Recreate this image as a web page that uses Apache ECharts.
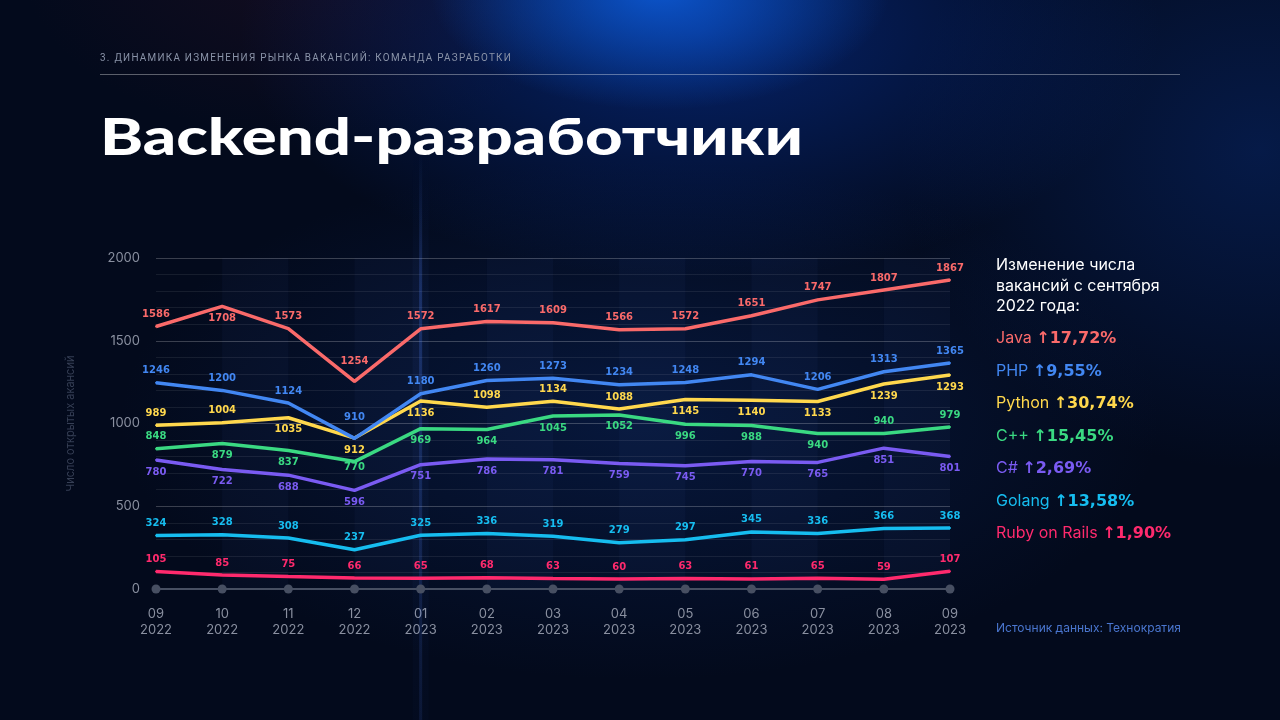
<!DOCTYPE html>
<html><head><meta charset="utf-8">
<script src="https://cdn.jsdelivr.net/npm/echarts@6/dist/echarts.min.js"></script>
<style>
html,body{margin:0;padding:0;width:1280px;height:720px;overflow:hidden;}
body{background:
 radial-gradient(ellipse 230px 120px at 660px -10px, rgba(12,90,215,0.9), rgba(12,90,215,0) 100%),
 radial-gradient(ellipse 460px 250px at 700px 30px, rgba(6,48,150,0.65), rgba(6,48,150,0) 100%),
 radial-gradient(ellipse 360px 320px at 1260px 150px, rgba(8,42,115,0.5), rgba(8,42,115,0) 100%),
 radial-gradient(ellipse 520px 260px at 640px 420px, rgba(12,42,105,0.42), rgba(12,42,105,0) 100%),
 radial-gradient(ellipse 300px 180px at 320px -40px, rgba(60,18,40,0.3), rgba(60,18,40,0) 100%),
 #030a1c;
 font-family:Inter, Roboto, sans-serif;}
#chart{position:absolute;left:0;top:0;width:1280px;height:720px;}
.abs{position:absolute;white-space:nowrap;}
#sub{left:100px;top:51px;font-family:Roboto,sans-serif;font-size:11px;line-height:14px;letter-spacing:1.4px;color:#8a93a8;transform-origin:0 0;}
#rule{left:100px;top:74px;width:1080px;height:1px;background:rgba(255,255,255,0.35);}
#title{left:100px;top:104px;font-family:Lato,sans-serif;font-weight:900;font-size:52px;line-height:62px;color:#fff;transform-origin:0 0;}
#panel{left:996px;top:254px;color:#fff;font-size:16px;line-height:20.5px;font-family:Inter,sans-serif;}
.entry{position:absolute;left:996px;font-family:Inter,sans-serif;font-size:16px;line-height:20px;white-space:nowrap;}
.entry b{font-family:"DejaVu Sans",sans-serif;font-weight:bold;font-size:16px;}
#src{left:996px;top:620px;font-size:12px;line-height:16px;color:#4a76cf;font-family:Inter,sans-serif;}
</style></head>
<body>
<div id="chart"></div>
<div id="sub" class="abs">3. ДИНАМИКА ИЗМЕНЕНИЯ РЫНКА ВАКАНСИЙ: КОМАНДА РАЗРАБОТКИ</div>
<div id="rule" class="abs"></div>
<div id="title" class="abs">Backend-разработчики</div>
<div id="panel" class="abs">Изменение числа<br>вакансий с сентября<br>2022 года:</div>
<div id="entries"></div>
<div id="src" class="abs">Источник данных: Технократия</div>
<script>
const months = ['09','10','11','12','01','02','03','04','05','06','07','08','09'];
const years  = ['2022','2022','2022','2022','2023','2023','2023','2023','2023','2023','2023','2023','2023'];
const categories = months.map((m,i)=>m+'\n'+years[i]);
const yTicks = [0,500,1000,1500,2000];

const java   = [1586,1708,1573,1254,1572,1617,1609,1566,1572,1651,1747,1807,1867];
const php    = [1246,1200,1124,910,1180,1260,1273,1234,1248,1294,1206,1313,1365];
const python = [989,1004,1035,912,1136,1098,1134,1088,1145,1140,1133,1239,1293];
const cpp    = [848,879,837,770,969,964,1045,1052,996,988,940,940,979];
const csharp = [780,722,688,596,751,786,781,759,745,770,765,851,801];
const golang = [324,328,308,237,325,336,319,279,297,345,336,366,368];
const ruby   = [105,85,75,66,65,68,63,60,63,61,65,59,107];

const seriesNames = ['Java','PHP','Python','C++','C#','Golang','Ruby on Rails'];
const seriesData = [java,php,python,cpp,csharp,golang,ruby];
const colors = ['#fa6a6a','#4287f2','#ffd84d','#3ad982','#7a5bf2','#16bdf0','#ff2a6d'];

// label layout: indices whose label sits below the line; custom label distances
const below = {
  'Java':[1],
  'Python':[2,3,4,8,9,10,11,12],
  'C++':[1,2,3,4,5,6,7,8,9,10],
  'C#':[0,1,2,3,4,5,6,7,8,9,10,11,12]
};
const labelDist = {'Java':{3:14},'PHP':{3:15},'C++':{3:0}};

const chart = echarts.init(document.getElementById('chart'), null, {renderer:'canvas'});

const series = seriesNames.map((name,si)=>({
  name, type:'line', data: seriesData[si].map((v,i)=>{
    const lab = {show:true,position:(below[name]||[]).includes(i)?'bottom':'top'};
    if (labelDist[name] && labelDist[name][i]!==undefined) lab.distance = labelDist[name][i];
    return {value:v,label:lab};
  }),
  symbol:'circle', symbolSize:2, showSymbol:true, z:10-si*0.1,
  lineStyle:{width:3.5,color:colors[si]},
  itemStyle:{color:colors[si]},
  label:{show:true,color:colors[si],fontFamily:'DejaVu Sans',fontWeight:'bold',fontSize:10,distance:6},
  labelLayout:{hideOverlap:false},
  emphasis:{disabled:true}, silent:true, animation:false
}));

series.unshift({
  name:'axis', type:'line', data: categories.map(()=>0),
  symbol:'circle', symbolSize:9, z:2,
  lineStyle:{width:2,color:'#474f62'}, itemStyle:{color:'#474f62'},
  label:{show:false}, silent:true, animation:false
});

chart.setOption({
  animation:false,
  backgroundColor:'transparent',
  grid:{left:156,right:330,top:258,bottom:131,containLabel:false},
  xAxis:{type:'category',data:categories,boundaryGap:false,
    axisLine:{show:false},axisTick:{show:false},
    axisLabel:{color:'#8a90a0',fontSize:13,lineHeight:16,margin:17,fontFamily:'Inter'},
    splitLine:{show:false},
    splitArea:{show:true,areaStyle:{color:['rgba(0,0,0,0)','rgba(110,150,255,0.035)']}}
  },
  yAxis:{type:'value',min:yTicks[0],max:yTicks[yTicks.length-1],interval:500,
    name:'Число открытых акансий',nameLocation:'middle',nameGap:80,nameRotate:90,
    nameTextStyle:{color:'#363f55',fontSize:11,fontFamily:'Inter'},
    axisLine:{show:false},axisTick:{show:false},
    axisLabel:{color:'#8a90a0',fontSize:13,margin:16,fontFamily:'Inter',formatter:v=>String(v)},
    splitLine:{lineStyle:{color:'rgba(255,255,255,0.22)',width:1}},
    minorTick:{show:false,splitNumber:5},
    minorSplitLine:{show:true,lineStyle:{color:'rgba(255,255,255,0.08)',width:1}}
  },
  series
});

// decorative beam at 01/2023
const bx = chart.convertToPixel({xAxisIndex:0}, categories[4]);
chart.setOption({graphic:[{type:'rect',silent:true,z:1,
  shape:{x:bx-1.5,y:150,width:3,height:570},
  style:{fill:new echarts.graphic.LinearGradient(0,0,0,1,[
    {offset:0,color:'rgba(80,130,255,0)'},{offset:0.25,color:'rgba(80,130,255,0.25)'},
    {offset:1,color:'rgba(80,130,255,0.1)'}])}},
  {type:'rect',silent:true,z:1,
  shape:{x:bx-8,y:150,width:16,height:570},
  style:{fill:new echarts.graphic.LinearGradient(0,0,0,1,[
    {offset:0,color:'rgba(80,130,255,0)'},{offset:0.3,color:'rgba(80,130,255,0.05)'},
    {offset:1,color:'rgba(80,130,255,0.02)'}])}}
]});

// legend entries with change since first month
const entries = document.getElementById('entries');
seriesNames.forEach((name,si)=>{
  const d = seriesData[si];
  const pct = ((d[d.length-1]-d[0])/d[0]*100).toFixed(2).replace('.',',');
  const el = document.createElement('div');
  el.className='entry';
  el.style.top = (327 + si*32.5)+'px';
  el.style.color = colors[si];
  el.innerHTML = name+' <b>↑'+pct+'%</b>';
  entries.appendChild(el);
});

function fit(id,w){const e=document.getElementById(id);const r=e.getBoundingClientRect().width;e.style.transform='scaleX('+(w/r)+')';}
fit('title',703);
fit('sub',412);
</script>
</body></html>
